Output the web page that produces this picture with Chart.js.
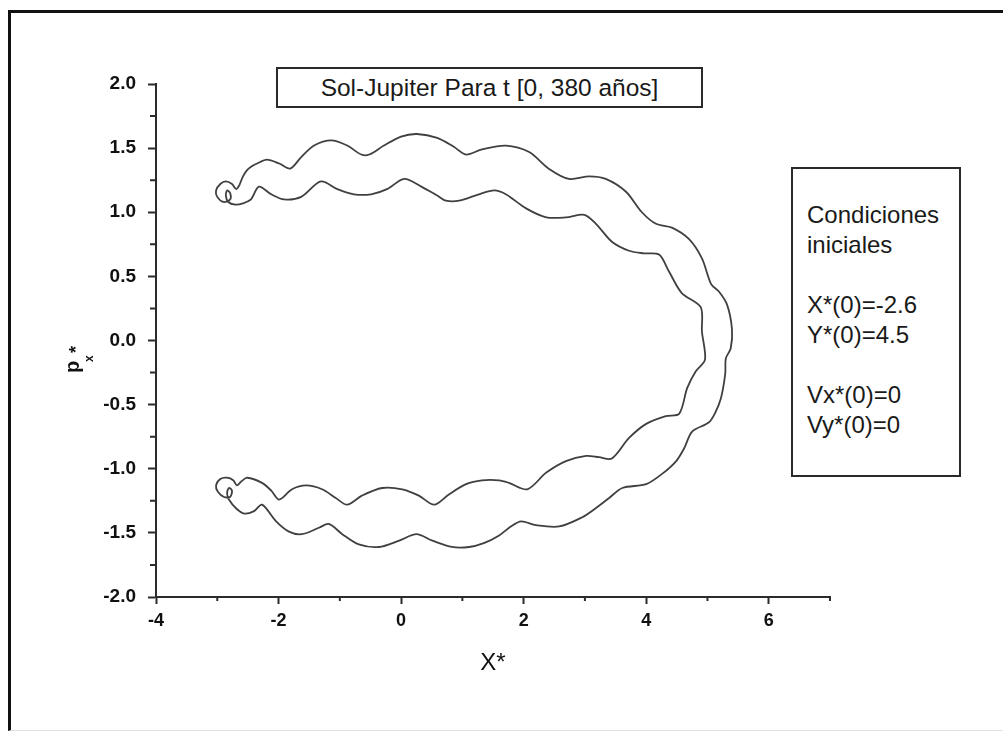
<!DOCTYPE html>
<html>
<head>
<meta charset="utf-8">
<title>Sol-Jupiter</title>
<script src="https://cdn.jsdelivr.net/npm/chart.js@4.4.1/dist/chart.umd.min.js"></script>
<style>
  html, body { margin: 0; padding: 0; background: #fff; }
  #wrap { position: relative; width: 1003px; height: 731px; overflow: hidden; }
  #frame {
    position: absolute; left: 8px; top: 10px; width: 993px; height: 717px;
    border-left: 3px solid #111; border-top: 3px solid #111;
    border-right: 1px solid #d8d8d8; border-bottom: 1px solid #e2e2e2;
  }
  .box {
    position: absolute; border: 2px solid #2a2a2a; background: #fff;
    font-family: "Liberation Sans", Arial, sans-serif; font-size: 24px; color: #1a1a1a;
  }
  #titleBox { left: 276px; top: 67px; width: 423px; height: 37px; line-height: 37px; text-align: center; font-size: 24.5px; }
  #condBox { left: 791px; top: 167px; width: 166px; height: 306px; }
  #condBox div { position: absolute; left: 14px; top: 31px; line-height: 30px; white-space: pre; }
</style>
</head>
<body>
<div id="wrap">
  <div id="frame"></div>
  <canvas id="orbitChart" width="1003" height="731" style="position:absolute;left:0;top:0"></canvas>
  <div class="box" id="titleBox">Sol-Jupiter Para t [0, 380 años]</div>
  <div class="box" id="condBox"><div id="condText"></div></div>
</div>
<script>
// axis ticks
const xTicks = [-4, -2, 0, 2, 4, 6];
const xMinor = [-3, -1, 1, 3, 5, 7];
const yTicks = [-2.0, -1.5, -1.0, -0.5, 0.0, 0.5, 1.0, 1.5, 2.0];
const yMinor = [-1.75, -1.25, -0.75, -0.25, 0.25, 0.75, 1.25, 1.75];

// outer strand: upper spiral -> across the top -> round the right end -> back along the bottom
const outerX = [-2.64,-2.58,-2.51,-2.43,-2.35,-2.19,-1.99,-1.81,-1.63,-1.42,-1.14,-0.88,-0.65,-0.52,-0.28,0.00,0.26,0.59,0.86,1.06,
  1.32,1.71,2.09,2.41,2.74,3.07,3.34,3.67,3.93,4.16,4.42,4.70,4.91,5.06,5.19,5.32,5.40,5.38,5.30,5.29,
  5.22,5.12,5.02,4.75,4.62,4.49,4.26,4.00,3.61,3.39,3.17,2.95,2.58,2.20,1.96,1.79,1.60,1.35,1.11,0.83,
  0.51,0.25,-0.03,-0.36,-0.69,-0.96,-1.18,-1.34,-1.62,-1.83,-2.04,-2.27,-2.40,-2.56];
const outerY = [1.21,1.28,1.33,1.36,1.38,1.41,1.38,1.34,1.43,1.52,1.56,1.52,1.45,1.45,1.52,1.59,1.61,1.58,1.51,1.45,
  1.49,1.52,1.47,1.34,1.26,1.28,1.26,1.16,1.00,0.91,0.88,0.79,0.64,0.44,0.38,0.28,0.09,-0.06,-0.14,-0.26,
  -0.45,-0.57,-0.64,-0.71,-0.84,-0.94,-1.04,-1.12,-1.15,-1.23,-1.31,-1.38,-1.45,-1.44,-1.41,-1.45,-1.52,-1.58,-1.61,-1.61,
  -1.56,-1.51,-1.56,-1.61,-1.59,-1.51,-1.43,-1.46,-1.51,-1.49,-1.41,-1.28,-1.33,-1.35];

// small loop at the lower left end
const lowerLoopX = [-2.69,-2.81,-2.84,-2.81,-2.76,-2.79,-2.89,-2.99,-3.02,-2.95,-2.84,-2.74,-2.68,-2.61];
const lowerLoopY = [-1.31,-1.24,-1.19,-1.15,-1.17,-1.22,-1.22,-1.18,-1.13,-1.08,-1.07,-1.09,-1.13,-1.10];

// inner strand: lower spiral -> along the bottom -> round the right end -> back along the top
const innerX = [-2.51,-2.27,-2.12,-1.99,-1.78,-1.55,-1.29,-1.06,-0.88,-0.64,-0.31,0.02,0.29,0.54,0.78,1.06,1.32,1.60,1.76,2.06,
  2.37,2.69,3.02,3.23,3.44,3.72,4.00,4.32,4.54,4.67,4.81,4.96,4.91,4.89,4.58,4.37,4.21,3.96,3.72,3.44,
  3.18,2.99,2.69,2.37,2.04,1.71,1.52,1.27,0.95,0.73,0.59,0.33,0.05,-0.23,-0.49,-0.77,-1.04,-1.31,-1.63,-1.91,
  -2.12,-2.32,-2.45,-2.58,-2.71];
const innerY = [-1.07,-1.11,-1.17,-1.24,-1.16,-1.13,-1.16,-1.23,-1.28,-1.21,-1.15,-1.16,-1.21,-1.28,-1.20,-1.12,-1.09,-1.09,-1.11,-1.16,
  -1.03,-0.94,-0.90,-0.91,-0.92,-0.76,-0.65,-0.59,-0.57,-0.37,-0.24,-0.15,0.07,0.26,0.37,0.54,0.67,0.68,0.70,0.77,
  0.91,0.98,0.96,0.96,1.03,1.14,1.17,1.14,1.09,1.09,1.13,1.20,1.26,1.18,1.14,1.14,1.18,1.24,1.12,1.10,
  1.14,1.20,1.10,1.07,1.06];

// small loop at the upper left end, closes back on the start
const upperLoopX = [-2.82,-2.86,-2.84,-2.79,-2.79,-2.90,-3.00,-3.02,-2.95,-2.86,-2.76,-2.69,-2.64];
const upperLoopY = [1.08,1.13,1.17,1.15,1.10,1.08,1.12,1.17,1.22,1.24,1.22,1.18,1.21];

const condLines = ['Condiciones', 'iniciales', '', 'X*(0)=-2.6', 'Y*(0)=4.5', '', 'Vx*(0)=0', 'Vy*(0)=0'];
document.getElementById('condText').textContent = condLines.join('\n');

const pathX = [...outerX, ...lowerLoopX, ...innerX, ...upperLoopX];
const pathY = [...outerY, ...lowerLoopY, ...innerY, ...upperLoopY];
const points = pathX.map((x, i) => ({x: x, y: pathY[i]}));

const FONT = '"Liberation Sans", Arial, sans-serif';
const AXIS = '#2b2b2b';

// minor ticks and the two axis titles
const axisExtras = {
  id: 'axisExtras',
  afterDraw(chart) {
    const ctx = chart.ctx;
    const xs = chart.scales.x, ys = chart.scales.y;
    const area = chart.chartArea;
    ctx.save();
    ctx.strokeStyle = AXIS;
    ctx.lineWidth = 2;
    ctx.beginPath();
    xMinor.forEach(v => {
      const px = xs.getPixelForValue(v);
      ctx.moveTo(px, area.bottom);
      ctx.lineTo(px, area.bottom + 4);
    });
    yMinor.forEach(v => {
      const py = ys.getPixelForValue(v);
      ctx.moveTo(area.left, py);
      ctx.lineTo(area.left - 6, py);
    });
    ctx.stroke();

    ctx.fillStyle = '#111';
    ctx.textAlign = 'center';
    ctx.textBaseline = 'alphabetic';
    ctx.font = '24px ' + FONT;
    ctx.fillText('X*', (area.left + area.right) / 2, area.bottom + 73);

    // p with * superscript and x subscript, rotated
    ctx.translate(79, 373);
    ctx.rotate(-Math.PI / 2);
    ctx.textAlign = 'left';
    ctx.font = 'bold 20px ' + FONT;
    ctx.fillText('p', 0, 0);
    ctx.font = 'bold 12px ' + FONT;
    ctx.fillText('x', 11, 14);
    ctx.font = 'bold 18px ' + FONT;
    ctx.fillText('*', 20, 3);
    ctx.restore();
  }
};

new Chart(document.getElementById('orbitChart').getContext('2d'), {
  type: 'scatter',
  data: {
    datasets: [{
      data: points,
      showLine: true,
      borderColor: '#404040',
      borderWidth: 1.8,
      pointRadius: 0,
      tension: 0.3,
      fill: false
    }]
  },
  options: {
    responsive: false,
    animation: false,
    layout: { padding: { left: 0, top: 84, right: 173, bottom: 0 } },
    plugins: { legend: { display: false }, tooltip: { enabled: false } },
    scales: {
      x: {
        type: 'linear',
        min: -4, max: 7,
        afterFit: s => { s.height = 134; },
        afterBuildTicks: s => { s.ticks = xTicks.map(v => ({value: v})); },
        border: { display: true, color: AXIS, width: 2 },
        grid: { display: true, drawOnChartArea: false, drawTicks: true, tickLength: 7, tickColor: AXIS, tickWidth: 2 },
        ticks: {
          color: '#111', padding: 6, maxRotation: 0,
          font: { family: FONT, size: 18, weight: 'bold' },
          callback: v => String(v)
        }
      },
      y: {
        type: 'linear',
        min: -2, max: 2,
        afterFit: s => { s.width = 156; },
        afterBuildTicks: s => { s.ticks = yTicks.map(v => ({value: v})); },
        border: { display: true, color: AXIS, width: 2 },
        grid: { display: true, drawOnChartArea: false, drawTicks: true, tickLength: 8, tickColor: AXIS, tickWidth: 2 },
        ticks: {
          color: '#111', padding: 12,
          font: { family: FONT, size: 19, weight: 'bold' },
          callback: v => v.toFixed(1)
        }
      }
    }
  },
  plugins: [axisExtras]
});
</script>
</body>
</html>
